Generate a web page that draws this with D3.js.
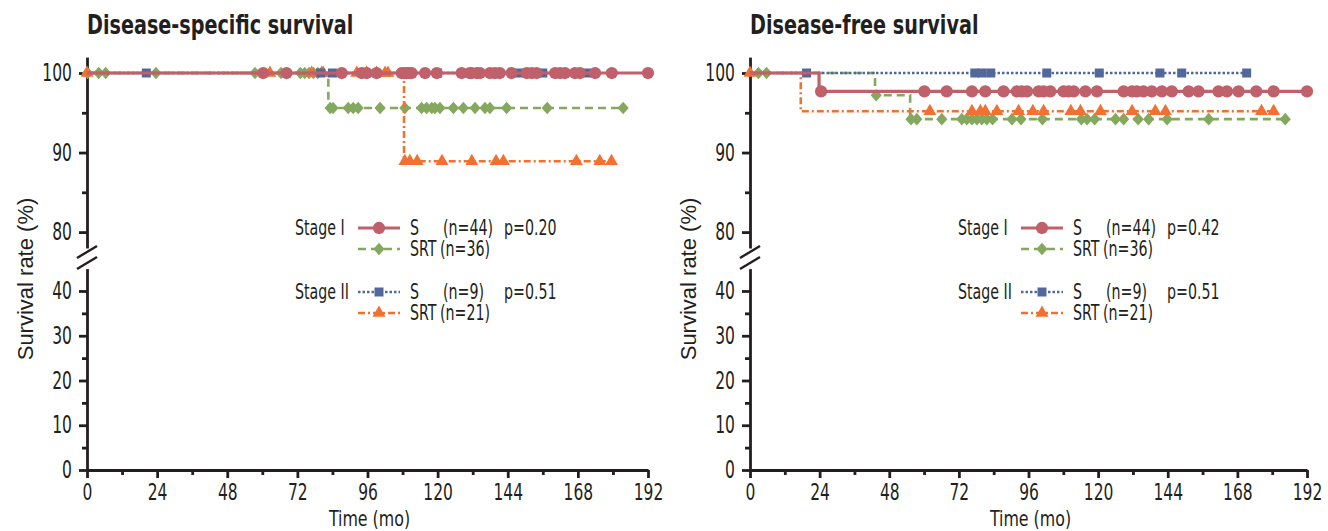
<!DOCTYPE html>
<html>
<head>
<meta charset="utf-8">
<script src="https://cdn.jsdelivr.net/npm/d3@7"></script>
<style>
  body { margin: 0; background: #fff; }
  text { font-family: "Liberation Sans Narrow", "DejaVu Sans Condensed", sans-serif; fill: #231f20; }
  .axis path, .axis line { stroke: #231f20; stroke-width: 2.8; }
</style>
</head>
<body>
<div id="grafico"></div>
<script>
// Ticks
const xTicks = [0, 24, 48, 72, 96, 120, 144, 168, 192];
const xMinor = [12, 36, 60, 84, 108, 132, 156, 180];
const yTopTicks = [80, 90, 100];
const yTopMinor = [85, 95];
const yBotTicks = [0, 10, 20, 30, 40];
const yBotMinor = [5, 15, 25, 35];

// Disease-specific survival: steps [time, survival %] and censored times
const dssS1Steps = [[0, 100], [192, 100]];
const dssS1Cens = [60.3, 68.3, 87.2, 94, 95.7, 99.1, 107.7, 108.6, 109.4, 110.3, 111.1, 115.7, 119.7, 128.2, 131,
  131.6, 133.4, 134.5, 137.9, 139.6, 141.3, 145.3, 150.5, 152.2, 153.9, 160.2, 161.9, 163.6, 167, 168.7, 173.9, 179.6, 192];
const dssSRT1Steps = [[0, 100], [82.6, 95.6], [183.5, 95.6]];
const dssSRT1Cens = [0.2, 4, 6.4, 23.6, 57.5, 66.4, 73, 74.5, 76, 77.5, 79,
  83.2, 84.2, 89.4, 91.1, 92.8, 100.3, 108.8, 114.5, 116.2, 118, 119.1, 120.8, 125.4, 128.8,
  132.8, 136.2, 137.9, 143.6, 157.5, 183.5];
const dssS2Steps = [[0, 100], [171, 100]];
const dssS2Cens = [20.3, 80, 84, 120, 148, 152, 156, 171];
const dssSRT2Steps = [[0, 100], [108.5, 88.9], [180, 88.9]];
const dssSRT2Cens = [0, 62.6, 76.9, 80.3, 80.8, 92.3, 95.7, 99.1, 102, 103,
  108.8, 110.5, 113, 121.5, 131.7, 140, 142.5, 167.5, 175.5, 179.5];

// Disease-free survival
const dfsS1Steps = [[0, 100], [23.8, 97.7], [192, 97.7]];
const dfsS1Cens = [24.5, 60.1, 67.8, 76.5, 81.1, 87.4, 92, 93.7, 95.5, 99.5, 101.2, 103.5, 108.1, 109.8, 111.6,
  115.6, 119.6, 128.8, 131.7, 133.4, 135.6, 138.5, 142, 145.4, 151.2, 154.6, 161.5, 164.4, 168.4, 174.5, 180.5, 192];
const dfsSRT1Steps = [[0, 100], [43.1, 97.2], [55.2, 94.2], [184.5, 94.2]];
const dfsSRT1Cens = [2.9, 5.7, 43.5, 55.5, 57.5, 66.1, 73, 74.7, 76.5, 78.2, 79.9, 81.6, 83.6, 90.3, 93.4,
  100.8, 114.2, 116.2, 118.8, 126, 128.8, 133.8, 137.4, 143.8, 158.1, 184.5];
const dfsS2Steps = [[0, 100], [171.2, 100]];
const dfsS2Cens = [19.5, 77.5, 80, 83, 102.3, 120.4, 141.3, 148.8, 171.2];
const dfsSRT2Steps = [[0, 100], [17.5, 95.2], [180.5, 95.2]];
const dfsSRT2Cens = [0, 62, 76.5, 79.4, 81.1, 85.1, 92.6, 97.5, 101.2, 110.6, 113.9, 120.8, 131.7,
  139.7, 143.2, 176.3, 180.5];

// Legend texts
const nLabels = { S1: '(n=44)', SRT1: '(n=36)', S2: '(n=9)', SRT2: '(n=21)' };
const pStage1 = ['p=0.20', 'p=0.42'];
const pStage2 = ['p=0.51', 'p=0.51'];

const estilos = {
  S1: { cor: '#c0606a', dash: null, largura: 3.2, simbolo: 'circle' },
  SRT1: { cor: '#84a95e', dash: '8,5', largura: 2.6, simbolo: 'diamond' },
  S2: { cor: '#52679b', dash: '2.5,2', largura: 2.6, simbolo: 'square' },
  SRT2: { cor: '#f27130', dash: '7,3,2,3', largura: 2.6, simbolo: 'triangle' }
};

const paineis = [
  {
    titulo: 'Disease-specific survival', x0: 87, x1: 648,
    dados: {
      S1: [dssS1Steps, dssS1Cens], SRT1: [dssSRT1Steps, dssSRT1Cens],
      S2: [dssS2Steps, dssS2Cens], SRT2: [dssSRT2Steps, dssSRT2Cens]
    },
    p1: pStage1[0], p2: pStage2[0]
  },
  {
    titulo: 'Disease-free survival', x0: 750, x1: 1307,
    dados: {
      S1: [dfsS1Steps, dfsS1Cens], SRT1: [dfsSRT1Steps, dfsSRT1Cens],
      S2: [dfsS2Steps, dfsS2Cens], SRT2: [dfsSRT2Steps, dfsSRT2Cens]
    },
    p1: pStage1[1], p2: pStage2[1]
  }
];

const svg = d3.select('#grafico').append('svg').attr('width', 1328).attr('height', 531);

// broken y axis: upper part 78-102, lower part 0-45
const yTop = d3.scaleLinear().domain([78, 102]).range([248, 57.1]);
const yBot = d3.scaleLinear().domain([0, 45]).range([470, 268.6]);
const y = (v) => (v >= 60 ? yTop(v) : yBot(v));

// condensed look: squeeze text horizontally around its own x
function aperta(sel, k) {
  sel.each(function () {
    const t = d3.select(this);
    const x0 = +t.attr('x') || 0;
    t.attr('transform', `translate(${x0},0) scale(${k},1) translate(${-x0},0)`);
  });
}

function marcador(tipo) {
  if (tipo === 'circle') return d3.symbol(d3.symbolCircle, 118)();
  if (tipo === 'square') return d3.symbol(d3.symbolSquare, 81)();
  if (tipo === 'triangle') return d3.symbol(d3.symbolTriangle, 72)();
  return 'M0,-6.3L5.6,0L0,6.3L-5.6,0Z';
}

function sobrevida(passos, t) {
  let v = passos[0][1];
  passos.forEach((p) => { if (p[0] <= t) v = p[1]; });
  return v;
}

paineis.forEach((p) => {
  const x = d3.scaleLinear().domain([0, 192]).range([p.x0, p.x1]);
  const g = svg.append('g');

  // título
  g.append('text').attr('x', p.x0).attr('y', 34)
    .style('font-weight', 'bold').style('font-size', '27px').text(p.titulo)
    .call(aperta, 0.79);

  // eixo x
  g.append('g').attr('class', 'axis').attr('transform', 'translate(0,470)')
    .call(d3.axisBottom(x).tickValues(xTicks).tickSize(8).tickSizeOuter(0).tickPadding(6))
    .call((a) => a.selectAll('text').style('font-size', '23px').call(aperta, 0.75));
  g.append('g').attr('class', 'axis').attr('transform', 'translate(0,470)')
    .call(d3.axisBottom(x).tickValues(xMinor).tickSize(5).tickFormat(''))
    .call((a) => a.select('.domain').remove());

  // eixo y (duas partes)
  [[yTop, yTopTicks, yTopMinor], [yBot, yBotTicks, yBotMinor]].forEach(([esc, maj, men]) => {
    g.append('g').attr('class', 'axis').attr('transform', `translate(${p.x0},0)`)
      .call(d3.axisLeft(esc).tickValues(maj).tickSize(8).tickSizeOuter(0).tickPadding(7))
      .call((a) => a.selectAll('text').style('font-size', '24px').call(aperta, 0.72));
    g.append('g').attr('class', 'axis').attr('transform', `translate(${p.x0},0)`)
      .call(d3.axisLeft(esc).tickValues(men).tickSize(5).tickFormat(''))
      .call((a) => a.select('.domain').remove());
  });

  // marcas de quebra
  [252, 263].forEach((cy) => {
    g.append('line')
      .attr('x1', p.x0 - 10).attr('y1', cy + 6)
      .attr('x2', p.x0 + 10).attr('y2', cy - 6)
      .attr('stroke', '#231f20').attr('stroke-width', 2.4);
  });

  // rótulos dos eixos
  g.append('text')
    .attr('transform', `translate(${p.x0 - 54},279) rotate(-90)`)
    .attr('text-anchor', 'middle')
    .style('font-family', '"Liberation Sans", Arial, sans-serif')
    .style('font-size', '22px')
    .text('Survival rate (%)');
  g.append('text').attr('x', (p.x0 + p.x1) / 2 + 2).attr('y', 526)
    .attr('text-anchor', 'middle').style('font-size', '22px').text('Time (mo)')
    .call(aperta, 0.8);

  // curvas
  const linha = d3.line().curve(d3.curveStepAfter).x((d) => x(d[0])).y((d) => y(d[1]));
  ['SRT1', 'SRT2', 'S2', 'S1'].forEach((k) => {
    const [passos, cens] = p.dados[k];
    const e = estilos[k];
    g.append('path').datum(passos).attr('d', linha)
      .attr('fill', 'none').attr('stroke', e.cor).attr('stroke-width', e.largura)
      .attr('stroke-dasharray', e.dash);
    g.selectAll(`.m${k}`).data(cens).enter().append('path')
      .attr('class', `m${k}`)
      .attr('transform', (t) => `translate(${x(t)},${y(sobrevida(passos, t))})`)
      .attr('d', marcador(e.simbolo)).attr('fill', e.cor);
  });

  // legenda
  const lx = p.x0 + 208;
  const linhasLeg = [
    { k: 'S1', yy: 228, stage: 'Stage I', nome: 'S', pval: p.p1 },
    { k: 'SRT1', yy: 249, stage: '', nome: 'SRT', pval: '' },
    { k: 'S2', yy: 292, stage: 'Stage II', nome: 'S', pval: p.p2 },
    { k: 'SRT2', yy: 313, stage: '', nome: 'SRT', pval: '' }
  ];
  linhasLeg.forEach((r) => {
    const e = estilos[r.k];
    const leg = g.append('g').style('font-size', '20.5px');
    if (r.stage) leg.append('text').attr('x', lx).attr('y', r.yy + 7).text(r.stage);
    leg.append('line').attr('x1', p.x0 + 271).attr('x2', p.x0 + 313)
      .attr('y1', r.yy).attr('y2', r.yy)
      .attr('stroke', e.cor).attr('stroke-width', e.largura).attr('stroke-dasharray', e.dash);
    leg.append('path').attr('transform', `translate(${p.x0 + 292},${r.yy})`)
      .attr('d', marcador(e.simbolo)).attr('fill', e.cor);
    leg.append('text').attr('x', p.x0 + 323).attr('y', r.yy + 7).text(r.nome);
    leg.append('text').attr('x', r.nome === 'S' ? p.x0 + 356 : p.x0 + 353).attr('y', r.yy + 7).text(nLabels[r.k]);
    if (r.pval) leg.append('text').attr('x', p.x0 + 417).attr('y', r.yy + 7).text(r.pval);
    leg.selectAll('text').call(aperta, 0.77);
  });
});
</script>
</body>
</html>
